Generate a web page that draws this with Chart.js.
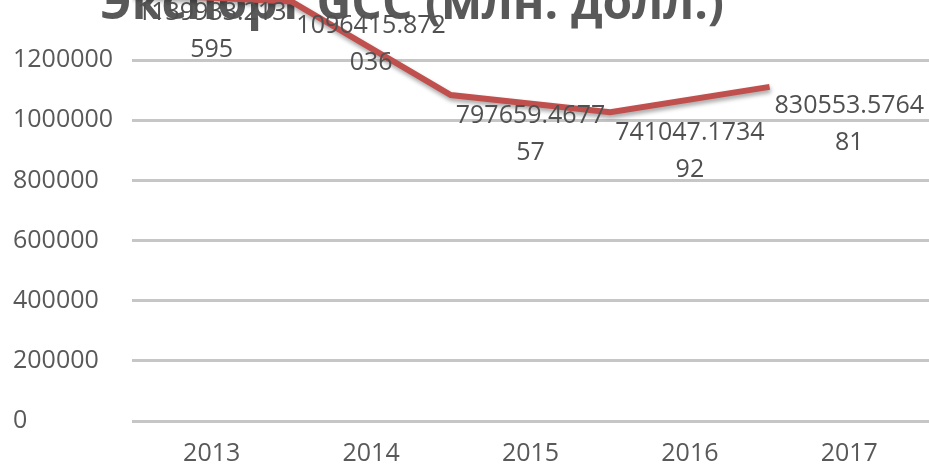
<!DOCTYPE html>
<html>
<head>
<meta charset="utf-8">
<script src="https://cdn.jsdelivr.net/npm/chart.js@4/dist/chart.umd.min.js"></script>
<style>
    body { margin: 0; background: #fff; }
    #wrap { width: 929px; height: 469px; }
</style>
</head>
<body>
<div id="wrap"><canvas id="exportChart" width="929" height="469"></canvas></div>
<script>
const years = ['2013', '2014', '2015', '2016', '2017'];
// line values (the line sits on the tick boundaries)
const exportValues = [1420000, 1395000, 1084000, 1027000, 1111000];
// data label values as printed in the picture
const labelValues = [1139933.213595, 1096415.872036, 797659.467757, 741047.173492, 830553.576481];
const yTicks = [0, 200000, 400000, 600000, 800000, 1000000, 1200000];
const yMax = 1400000;

const titleText = 'Экспорт GCC (млн. долл.)';
const textColor = '#595959';
const fontFamily = '"Open Sans", "DejaVu Sans", sans-serif';

// Comment: title sits under the line, partly cut off by the top edge
const titlePlugin = {
    id: 'cutTitle',
    beforeDatasetsDraw(chart) {
        const ctx = chart.ctx;
        ctx.save();
        ctx.font = `bold 48px ${fontFamily}`;
        ctx.fillStyle = textColor;
        ctx.textAlign = 'center';
        ctx.textBaseline = 'alphabetic';
        ctx.fillText(titleText, 412, 19);
        ctx.restore();
    }
};

const shadowPlugin = {
    id: 'lineShadow',
    beforeDatasetDraw(chart) {
        const ctx = chart.ctx;
        ctx.save();
        ctx.shadowColor = 'rgba(0, 0, 0, 0.35)';
        ctx.shadowBlur = 4;
        ctx.shadowOffsetX = 1;
        ctx.shadowOffsetY = 3;
    },
    afterDatasetDraw(chart) {
        chart.ctx.restore();
    }
};

// Comment: Excel-style labels, wrapped after 11 chars, placed above their value
const labelPlugin = {
    id: 'valueLabels',
    afterDatasetsDraw(chart) {
        const ctx = chart.ctx;
        const x = chart.scales.x;
        const y = chart.scales.y;
        ctx.save();
        ctx.font = `25px ${fontFamily}`;
        ctx.fillStyle = '#505050';
        ctx.textAlign = 'center';
        ctx.textBaseline = 'middle';
        labelValues.forEach((v, i) => {
            const s = String(v);
            const px = x.getPixelForValue(i);
            const py = y.getPixelForValue(v) - 47;
            ctx.fillText(s.slice(0, 11), px, py - 18.5);
            ctx.fillText(s.slice(11), px, py + 18.5);
        });
        ctx.restore();
    }
};

const ctx = document.getElementById('exportChart').getContext('2d');

new Chart(ctx, {
    type: 'line',
    data: {
        datasets: [{
            label: 'Экспорт',
            data: exportValues.map((v, i) => ({ x: i - 0.5, y: v })),
            borderColor: '#c0504d',
            borderWidth: 6,
            pointRadius: 0,
            tension: 0,
            fill: false
        }]
    },
    options: {
        responsive: false,
        animation: false,
        layout: { padding: { left: 13, right: 0, top: 0, bottom: 0 } },
        plugins: {
            legend: { display: false },
            tooltip: { enabled: false }
        },
        scales: {
            x: {
                type: 'linear',
                min: -0.5,
                max: years.length - 0.5,
                afterBuildTicks: (scale) => {
                    scale.ticks = years.map((_, i) => ({ value: i }));
                },
                afterFit: (scale) => {
                    scale.height = 48;
                    scale.paddingLeft = 0;
                    scale.paddingRight = 0;
                },
                grid: { display: false },
                border: { display: false },
                ticks: {
                    padding: 10,
                    color: textColor,
                    font: { family: fontFamily, size: 25 },
                    callback: (value) => years[value]
                }
            },
            y: {
                min: 0,
                max: yMax,
                afterBuildTicks: (scale) => {
                    scale.ticks = yTicks.map(v => ({ value: v }));
                },
                afterFit: (scale) => {
                    scale.width = 119;
                    scale.paddingTop = 0;
                    scale.paddingBottom = 0;
                },
                border: { display: false },
                grid: {
                    color: '#c6c6c6',
                    lineWidth: 3,
                    drawTicks: false
                },
                ticks: {
                    crossAlign: 'far',
                    padding: 0,
                    color: textColor,
                    font: { family: fontFamily, size: 25 },
                    callback: (value) => String(value)
                }
            }
        }
    },
    plugins: [titlePlugin, shadowPlugin, labelPlugin]
});
</script>
</body>
</html>
